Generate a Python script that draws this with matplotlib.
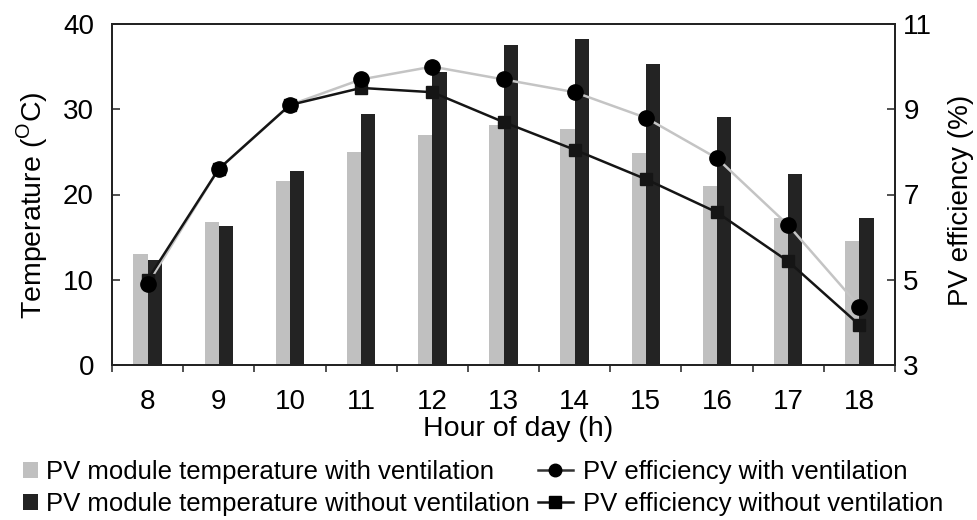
import matplotlib
matplotlib.use("Agg")
import matplotlib.pyplot as plt
from matplotlib.lines import Line2D
from matplotlib.patches import Patch
import numpy as np

plt.rcParams['font.family'] = ['Liberation Sans', 'DejaVu Sans']
plt.rcParams['mathtext.fontset'] = 'custom'
plt.rcParams['mathtext.rm'] = 'Liberation Sans'

hours = [8, 9, 10, 11, 12, 13, 14, 15, 16, 17, 18]
temp_vent = [13.0, 16.8, 21.6, 25.0, 27.0, 28.1, 27.7, 24.9, 21.0, 17.2, 14.5]
temp_novent = [12.3, 16.3, 22.8, 29.5, 34.4, 37.5, 38.2, 35.3, 29.1, 22.4, 17.2]
eff_vent = [4.9, 7.6, 9.1, 9.7, 10.0, 9.7, 9.4, 8.8, 7.85, 6.28, 4.37]
eff_novent = [5.0, 7.6, 9.1, 9.5, 9.4, 8.7, 8.05, 7.36, 6.58, 5.43, 3.94]

light = '#c0c0c0'
dark = '#232323'
linegrey = '#c4c4c4'

W, H = 978, 520
fig = plt.figure(figsize=(W / 100, H / 100), dpi=100)
ax = fig.add_axes([112 / W, 1 - 365 / H, (895 - 112) / W, (365 - 24) / H])

x = np.array(hours, dtype=float)
bw = 0.2
ax.bar(x - bw / 2, temp_vent, width=bw, color=light, edgecolor='none', zorder=2)
ax.bar(x + bw / 2, temp_novent, width=bw, color=dark, edgecolor='none', zorder=2)

ax.set_xlim(7.5, 18.5)
ax.set_ylim(0, 40)
ax.set_yticks([0, 10, 20, 30, 40])
ax.set_xticks(np.arange(7.5, 18.6, 1.0))
ax.set_xticklabels([])
ax.set_xticks(hours, minor=True)
ax.set_xticklabels([str(h) for h in hours], minor=True)
ax.tick_params(axis='x', which='major', direction='out', length=5, width=1.2, color='#333333')
ax.tick_params(axis='x', which='minor', length=0, pad=17, labelsize=20)
ax.tick_params(axis='y', direction='in', length=6, width=1.2, color='#333333', pad=13, labelsize=20)

for s in ax.spines.values():
    s.set_linewidth(1.3)
    s.set_color('#222222')

ax2 = ax.twinx()
ax2.set_ylim(3, 11)
ax2.set_yticks([3, 5, 7, 9, 11])
ax2.tick_params(axis='y', direction='in', length=6, width=1.2, color='#333333', pad=6, labelsize=20)
for s in ax2.spines.values():
    s.set_linewidth(1.3)
    s.set_color('#222222')

ax2.plot(hours, eff_vent, color=linegrey, lw=1.8, zorder=2)
ax2.plot(hours, eff_novent, color='#151515', lw=1.8, marker='s', markersize=8.5, zorder=3)
ax2.plot(hours, eff_vent, ls='none', marker='o', color='black', markersize=11, zorder=4)

ax.set_xlabel('Hour of day (h)', fontsize=20.5, va='center', ha='center')
ax.xaxis.set_label_coords(518 / W, 1 - 429 / H, transform=fig.transFigure)
ax.set_ylabel('Temperature ($^{\\mathrm{O}}$C)', fontsize=20.5, va='center', ha='center')
ax.yaxis.set_label_coords(32 / W, 1 - 205 / H, transform=fig.transFigure)
ax2.set_ylabel('PV efficiency (%)', fontsize=20, va='center', ha='center', rotation=90)
ax2.yaxis.set_label_coords(961 / W, 1 - 200 / H, transform=fig.transFigure)

h1 = [Patch(facecolor=light, edgecolor='none'), Patch(facecolor=dark, edgecolor='none')]
l1 = ['PV module temperature with ventilation', 'PV module temperature without ventilation']
leg1 = fig.legend(h1, l1, loc='upper left', bbox_to_anchor=(23 / W, 1 - 460 / H),
                  frameon=False, borderpad=0, borderaxespad=0, fontsize=18.5,
                  handlelength=0.58, handleheight=0.58, handletextpad=0.3, labelspacing=0.3)
h2 = [Line2D([], [], color='#333333', lw=1.8, marker='o', markersize=9, markerfacecolor='black', markeredgecolor='black'),
      Line2D([], [], color='#151515', lw=1.8, marker='s', markersize=8, markerfacecolor='black', markeredgecolor='black')]
l2 = ['PV efficiency with ventilation', 'PV efficiency without ventilation']
leg2 = fig.legend(h2, l2, loc='upper left', bbox_to_anchor=(538 / W, 1 - 460 / H),
                  frameon=False, borderpad=0, borderaxespad=0, fontsize=18.5,
                  handlelength=1.36, handletextpad=0.39, labelspacing=0.3)

fig.savefig('out.png', dpi=100)
